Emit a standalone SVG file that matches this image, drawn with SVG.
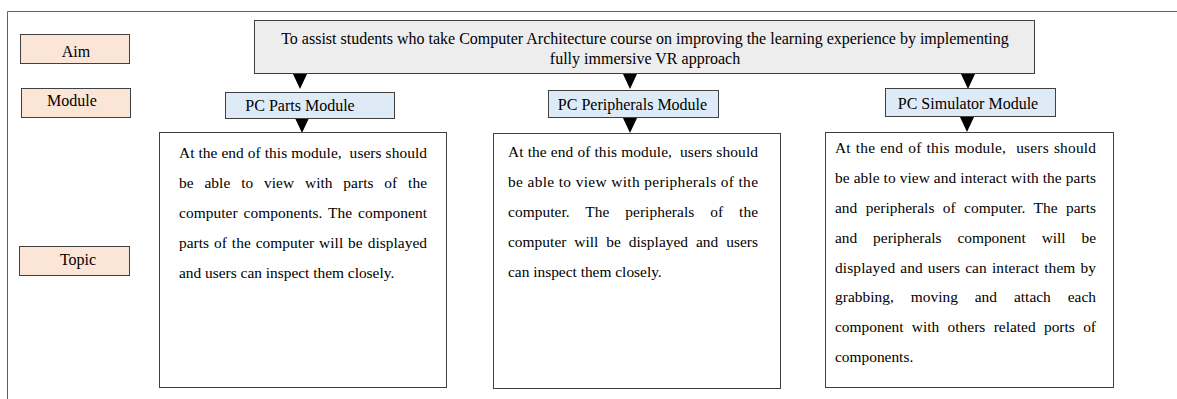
<svg xmlns="http://www.w3.org/2000/svg" width="1177" height="399" viewBox="0 0 1177 399">
<style>
text{font-family:"Liberation Serif","Times New Roman",serif;font-size:16px;fill:#000}
.b{font-size:15.4px}
.lbl{fill:#fbe5d6;stroke:#404040;stroke-width:1}
.mod{fill:#deebf7;stroke:#404040;stroke-width:1}
.aim{fill:#ededed;stroke:#404040;stroke-width:1}
.box{fill:#fff;stroke:#404040;stroke-width:1}
.c{text-anchor:middle}
</style>
<defs>
<path id="tri" d="M-7,0 L7,0 L0,15 Z" fill="#000"/>
</defs>
<rect width="1177" height="399" fill="#fff"/>
<path d="M7.5,399 L7.5,11.5 L1177,11.5" fill="none" stroke="#606060" stroke-width="1"/>

<g id="legend-aim"><rect class="lbl" x="20.5" y="34.5" width="109" height="29"/><text class="c" x="76" y="56.5">Aim</text></g>
<g id="legend-module"><rect class="lbl" x="21.5" y="88.5" width="109" height="29"/><text class="c" x="72" y="106">Module</text></g>
<g id="legend-topic"><rect class="lbl" x="19.5" y="246.5" width="110" height="29"/><text class="c" x="78" y="265">Topic</text></g>

<g id="aim"><rect class="aim" x="254.5" y="20.5" width="780" height="53"/>
<text class="c" x="645" y="43.5">To assist students who take Computer Architecture course on improving the learning experience by implementing</text>
<text class="c" x="645" y="63.5">fully immersive VR approach</text></g>

<g id="connectors">
<use href="#tri" x="300" y="74"/>
<use href="#tri" x="630" y="74"/>
<use href="#tri" x="968" y="74"/>
<use href="#tri" x="302" y="118"/>
<use href="#tri" x="630" y="118"/>
<use href="#tri" x="967" y="117"/>
</g>

<g id="mod-parts"><rect class="mod" x="225.5" y="92.5" width="169" height="26"/><text class="c" x="300" y="111">PC Parts Module</text></g>
<g id="mod-periph"><rect class="mod" x="548.5" y="90.5" width="170" height="27"/><text class="c" x="632.5" y="110">PC Peripherals Module</text></g>
<g id="mod-sim"><rect class="mod" x="885.5" y="88.5" width="170" height="28"/><text class="c" x="968" y="109">PC Simulator Module</text></g>

<g id="topic-parts" class="b"><rect class="box" x="159.5" y="132.5" width="287" height="255"/>
<text class="b" x="179" y="158" textLength="248" lengthAdjust="spacing">At the end of this module,&#160; users should</text>
<text class="b" x="179" y="188" textLength="248" lengthAdjust="spacing" word-spacing="7">be able to view with parts of the</text>
<text class="b" x="179" y="218" textLength="248" lengthAdjust="spacing" word-spacing="2">computer components. The component</text>
<text class="b" x="179" y="248" textLength="248" lengthAdjust="spacing" word-spacing="1">parts of the computer will be displayed</text>
<text class="b" x="179" y="278">and users can inspect them closely.</text></g>

<g id="topic-periph"><rect class="box" x="493.5" y="133.5" width="287" height="255"/>
<text class="b" x="508" y="157" textLength="250" lengthAdjust="spacing">At the end of this module,&#160; users should</text>
<text class="b" x="508" y="187" textLength="250" lengthAdjust="spacing">be able to view with peripherals of the</text>
<text class="b" x="508" y="217" textLength="250" lengthAdjust="spacing" word-spacing="12">computer. The peripherals of the</text>
<text class="b" x="508" y="247" textLength="250" lengthAdjust="spacing" word-spacing="4">computer will be displayed and users</text>
<text class="b" x="508" y="277">can inspect them closely.</text></g>

<g id="topic-sim"><rect class="box" x="825.5" y="132.5" width="288" height="255"/>
<text class="b" x="835" y="153" textLength="261" lengthAdjust="spacing" word-spacing="1">At the end of this module,&#160; users should</text>
<text class="b" x="835" y="183" textLength="261" lengthAdjust="spacing">be able to view and interact with the parts</text>
<text class="b" x="835" y="213" textLength="261" lengthAdjust="spacing" word-spacing="4.5">and peripherals of computer. The parts</text>
<text class="b" x="835" y="243" textLength="261" lengthAdjust="spacing" word-spacing="12">and peripherals component will be</text>
<text class="b" x="835" y="273" textLength="261" lengthAdjust="spacing" word-spacing="1">displayed and users can interact them by</text>
<text class="b" x="835" y="302" textLength="261" lengthAdjust="spacing" word-spacing="13">grabbing, moving and attach each</text>
<text class="b" x="835" y="332" textLength="261" lengthAdjust="spacing" word-spacing="4.5">component with others related ports of</text>
<text class="b" x="835" y="362">components.</text></g>
</svg>
